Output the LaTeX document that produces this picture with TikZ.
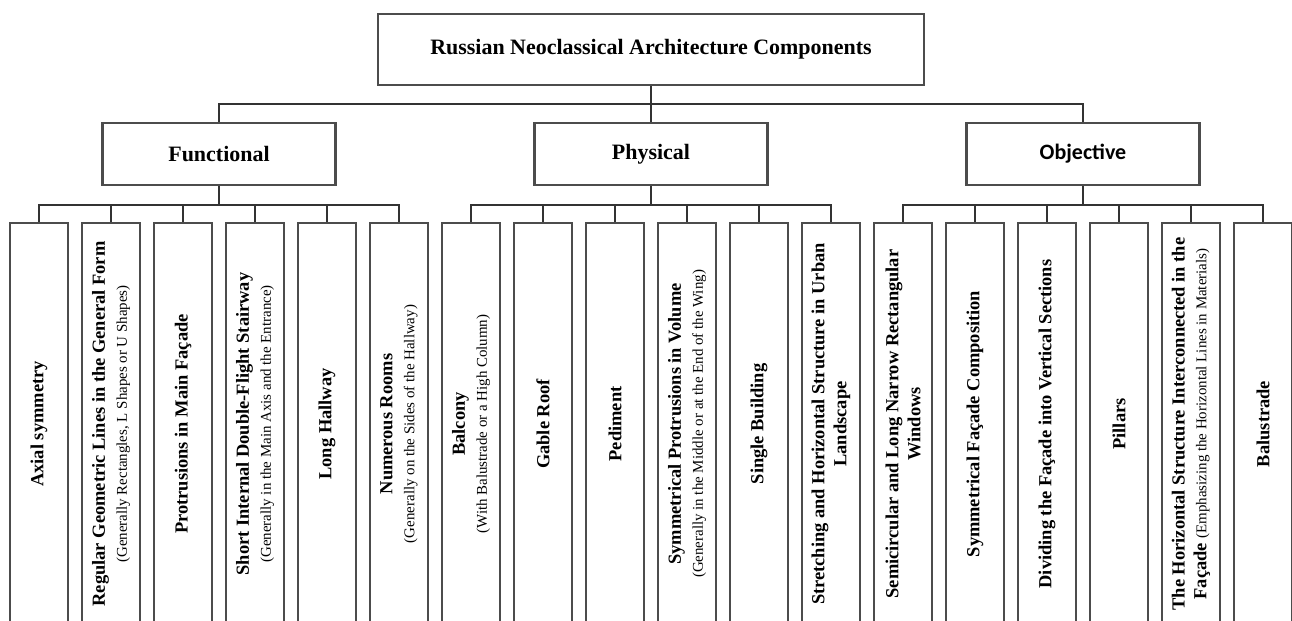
\documentclass[tikz,border=0pt]{standalone}
\usepackage{fontspec}
\setmainfont{Liberation Serif}
\newfontfamily\calfont{Carlito}
\usepackage{tikz}
\usetikzlibrary{positioning}
\tikzstyle{rootBox} = [rectangle, minimum width=10.92cm, minimum height=1.42cm, text centered, draw=black!70, line width=1.2pt, font=\fontsize{12.5}{15}\selectfont\bfseries]
\tikzstyle{groupBox} = [rectangle, minimum width=4.66cm, minimum height=1.24cm, text centered, draw=black!70, line width=1.2pt, font=\fontsize{12.5}{15}\selectfont\bfseries]
\tikzstyle{leafBox} = [
                rectangle,
                rotate=90,
                minimum width=8.04cm,
                minimum height=1.16cm,
                inner sep=0.05cm,
                align=center,
                draw=black!70,
                line width=1.2pt,
                font=\fontsize{10.5}{12.5}\selectfont\bfseries
            ]
\tikzstyle{line} = [black!80, line width=0.8pt]
\newcommand{\subnote}[1]{{\fontsize{8.5}{12.5}\selectfont\mdseries #1}}

\begin{document}
\begin{tikzpicture}[x=0.02cm, y=-0.02cm]
                            \useasboundingbox (0,0) rectangle (1292,621);
                            \clip (0,0) rectangle (1292,621);
                            % top levels
                            \node (root) [rootBox] at (651,49.5) {Russian Neoclassical Architecture Components};
                            \node (fun) [groupBox] at (219,154) {Functional};
                            \node (phy) [groupBox] at (651,154) {Physical};
                            \node (obj) [groupBox] at (1083,154) {\calfont Objective};
                            \coordinate (bus) at (651,104);
                            \coordinate (fbus) at (219,205);
                            \coordinate (pbus) at (651,205);
                            \coordinate (obus) at (1083,205);
                            % functional
                            \node (f1) [leafBox] at (39,424) {Axial symmetry};
                            \node (f2) [leafBox] at (111,424) {Regular Geometric Lines in the General Form\\ \subnote{(Generally Rectangles, L Shapes or U Shapes)}};
                            \node (f3) [leafBox] at (183,424) {Protrusions in Main Façade};
                            \node (f4) [leafBox] at (255,424) {Short Internal Double-Flight Stairway\\ \subnote{(Generally in the Main Axis and the Entrance)}};
                            \node (f5) [leafBox] at (327,424) {Long Hallway};
                            \node (f6) [leafBox] at (399,424) {Numerous Rooms\\ \subnote{(Generally on the Sides of the Hallway)}};
                            % physical
                            \node (p1) [leafBox] at (471,424) {Balcony\\ \subnote{(With Balustrade or a High Column)}};
                            \node (p2) [leafBox] at (543,424) {Gable Roof};
                            \node (p3) [leafBox] at (615,424) {Pediment};
                            \node (p4) [leafBox] at (687,424) {Symmetrical Protrusions in Volume\\ \subnote{(Generally in the Middle or at the End of the Wing)}};
                            \node (p5) [leafBox] at (759,424) {Single Building};
                            \node (p6) [leafBox] at (831,424) {Stretching and Horizontal Structure in Urban\\ Landscape};
                            % objective
                            \node (o1) [leafBox] at (903,424) {Semicircular and Long Narrow Rectangular\\ Windows};
                            \node (o2) [leafBox] at (975,424) {Symmetrical Façade Composition};
                            \node (o3) [leafBox] at (1047,424) {Dividing the Façade into Vertical Sections};
                            \node (o4) [leafBox] at (1119,424) {Pillars};
                            \node (o5) [leafBox] at (1191,424) {The Horizontal Structure Interconnected in the\\ Façade \subnote{(Emphasizing the Horizontal Lines in Materials)}};
                            \node (o6) [leafBox] at (1263,424) {Balustrade};
                            % connectors
                            \draw [line] (root) -- (phy);
                            \draw [line] (fun.north) -- (fun.north |- bus) -- (obj.north |- bus) -- (obj.north);
                            \draw [line] (fun) -- (fbus);
                            \draw [line] (phy) -- (pbus);
                            \draw [line] (obj) -- (obus);
                            \draw [line] (f1.east) -- (f1.east |- fbus) -- (f6.east |- fbus) -- (f6.east);
                            \draw [line] (f2.east) -- (f2.east |- fbus);
                            \draw [line] (f3.east) -- (f3.east |- fbus);
                            \draw [line] (f4.east) -- (f4.east |- fbus);
                            \draw [line] (f5.east) -- (f5.east |- fbus);
                            \draw [line] (p1.east) -- (p1.east |- pbus) -- (p6.east |- pbus) -- (p6.east);
                            \draw [line] (p2.east) -- (p2.east |- pbus);
                            \draw [line] (p3.east) -- (p3.east |- pbus);
                            \draw [line] (p4.east) -- (p4.east |- pbus);
                            \draw [line] (p5.east) -- (p5.east |- pbus);
                            \draw [line] (o1.east) -- (o1.east |- obus) -- (o6.east |- obus) -- (o6.east);
                            \draw [line] (o2.east) -- (o2.east |- obus);
                            \draw [line] (o3.east) -- (o3.east |- obus);
                            \draw [line] (o4.east) -- (o4.east |- obus);
                            \draw [line] (o5.east) -- (o5.east |- obus);
                        \end{tikzpicture}
\end{document}
